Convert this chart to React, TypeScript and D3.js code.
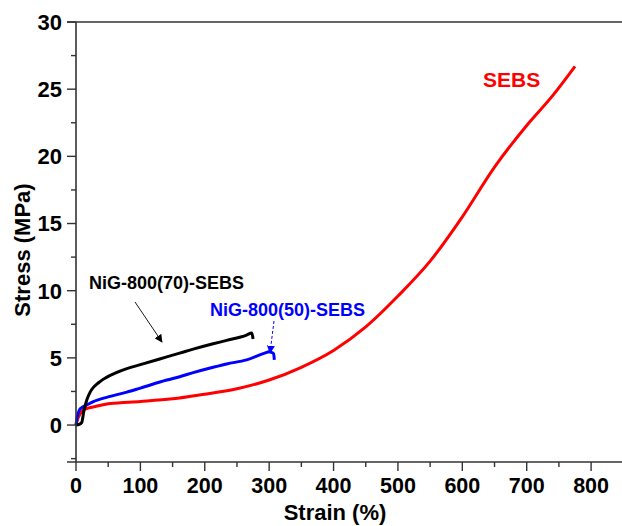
import React from "react";
import * as d3 from "d3";

const W = 622;
const H = 526;

const xTicks = [0, 100, 200, 300, 400, 500, 600, 700, 800];
const xMinor = [50, 150, 250, 350, 450, 550, 650, 750];
const yTicks = [0, 5, 10, 15, 20, 25, 30];
const yMinor = [-2.5, 2.5, 7.5, 12.5, 17.5, 22.5, 27.5];

const sebsStrain = [0, 3, 6, 11, 20, 30, 53, 100, 150, 200, 250, 300, 350, 400, 450, 500, 550, 600, 650, 700, 740, 775];
const sebsStress = [0, 0.5, 0.8, 1.1, 1.28, 1.38, 1.6, 1.75, 1.95, 2.3, 2.7, 3.35, 4.3, 5.55, 7.3, 9.6, 12.2, 15.5, 19.2, 22.3, 24.5, 26.7];

const ni70Strain = [0, 5, 9, 12, 17, 22, 27, 35, 42, 60, 79, 100, 130, 161, 182, 213, 234, 265, 273, 275];
const ni70Stress = [0, 0.05, 0.2, 1.0, 1.9, 2.45, 2.8, 3.15, 3.4, 3.85, 4.2, 4.5, 4.92, 5.35, 5.65, 6.05, 6.3, 6.7, 6.85, 6.4];

const ni50Strain = [0, 2, 5, 9, 15, 27, 50, 79, 100, 141, 161, 182, 213, 234, 265, 293, 300, 304, 307, 308];
const ni50Stress = [0, 0.6, 1.1, 1.3, 1.45, 1.75, 2.1, 2.45, 2.75, 3.35, 3.6, 3.9, 4.3, 4.55, 4.85, 5.35, 5.45, 5.4, 5.3, 4.85];

const series = [
  { name: "SEBS", color: "#ff0000", xs: sebsStrain, ys: sebsStress },
  { name: "NiG-800(50)-SEBS", color: "#0000ff", xs: ni50Strain, ys: ni50Stress },
  { name: "NiG-800(70)-SEBS", color: "#000000", xs: ni70Strain, ys: ni70Stress },
];

const FONT = "'Liberation Sans', Arial, sans-serif";

export default function App() {
  const left = 76;
  const right = 622;
  const top = 22;
  const bottom = 462;
  const x = d3.scaleLinear().domain([0, 848]).range([left, right]);
  const y = d3.scaleLinear().domain([-2.75, 30]).range([bottom, top]);
  const axisColor = "#333";

  const line = d3
    .line<[number, number]>()
    .x((d) => x(d[0]))
    .y((d) => y(d[1]))
    .curve(d3.curveMonotoneX);

  return (
    <svg
      width={W}
      height={H}
      style={{ position: "absolute", left: 0, top: 0, background: "#fff" }}
      fontFamily={FONT}
    >
      <defs>
        <marker id="ahBlack" viewBox="0 0 10 10" refX="9" refY="5" markerWidth="8" markerHeight="8" orient="auto" markerUnits="userSpaceOnUse">
          <path d="M0,0 L10,5 L0,10 z" fill="#000" />
        </marker>
        <marker id="ahBlue" viewBox="0 0 10 10" refX="9" refY="5" markerWidth="8" markerHeight="8" orient="auto" markerUnits="userSpaceOnUse">
          <path d="M0,0 L10,5 L0,10 z" fill="#0000ff" />
        </marker>
      </defs>

      {/* curves */}
      {series.map((s) => (
        <path
          key={s.name}
          d={line(s.xs.map((v, i) => [v, s.ys[i]] as [number, number])) || ""}
          fill="none"
          stroke={s.color}
          strokeWidth={3}
          strokeLinejoin="round"
        />
      ))}

      {/* axes */}
      <line x1={left} x2={left} y1={top} y2={bottom} stroke={axisColor} strokeWidth={1.6} />
      <line x1={left - 9} x2={right} y1={bottom} y2={bottom} stroke={axisColor} strokeWidth={1.6} />
      <line x1={left - 9} x2={right} y1={top} y2={top} stroke={axisColor} strokeWidth={1.6} />

      {yTicks.map((t) => (
        <g key={"yt" + t}>
          <line x1={left - 9} x2={left} y1={y(t)} y2={y(t)} stroke={axisColor} strokeWidth={1.4} />
          <text x={left - 14} y={y(t)} dy="0.36em" textAnchor="end" fontSize={22} fontWeight="bold" fill="#000">
            {t}
          </text>
        </g>
      ))}
      {yMinor.map((t) => (
        <line key={"ym" + t} x1={left - 5} x2={left} y1={y(t)} y2={y(t)} stroke={axisColor} strokeWidth={1.4} />
      ))}
      {xTicks.map((t) => (
        <g key={"xt" + t}>
          <line x1={x(t)} x2={x(t)} y1={bottom} y2={bottom + 9} stroke={axisColor} strokeWidth={1.4} />
          <text x={x(t)} y={bottom + 31} textAnchor="middle" fontSize={21.5} fontWeight="bold" fill="#000">
            {t}
          </text>
        </g>
      ))}
      {xMinor.map((t) => (
        <line key={"xm" + t} x1={x(t)} x2={x(t)} y1={bottom} y2={bottom + 5} stroke={axisColor} strokeWidth={1.4} />
      ))}

      <text x={335} y={520} textAnchor="middle" fontSize={22} fontWeight="bold" fill="#000">
        Strain (%)
      </text>
      <text
        transform={`translate(30,${(top + bottom) / 2 + 8}) rotate(-90)`}
        textAnchor="middle"
        fontSize={22}
        fontWeight="bold"
        fill="#000"
      >
        Stress (MPa)
      </text>

      {/* annotations */}
      <text x={89} y={289} fontSize={18} fontWeight="bold" fill="#000">
        NiG-800(70)-SEBS
      </text>
      <line x1={135} y1={302} x2={162} y2={342} stroke="#000" strokeWidth={0.9} markerEnd="url(#ahBlack)" />

      <text x={210} y={316} fontSize={18} fontWeight="bold" fill="#0000ff">
        NiG-800(50)-SEBS
      </text>
      <line x1={274} y1={321} x2={270} y2={353} stroke="#0000ff" strokeWidth={1} strokeDasharray="3,2" markerEnd="url(#ahBlue)" />

      <text x={483} y={87} fontSize={21} fontWeight="bold" fill="#ff0000">
        SEBS
      </text>
    </svg>
  );
}
